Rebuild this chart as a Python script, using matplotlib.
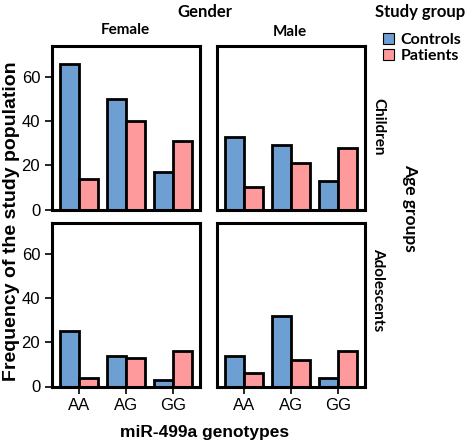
import numpy as np
import matplotlib
matplotlib.use("Agg")
import matplotlib.pyplot as plt
from matplotlib.patches import Patch

genotypes = ["AA", "AG", "GG"]
genders = ["Female", "Male"]
age_groups = ["Children", "Adolescents"]

# frequencies
controls = {
    ("Children", "Female"): [66, 50, 17],
    ("Children", "Male"): [33, 29, 13],
    ("Adolescents", "Female"): [25, 14, 3],
    ("Adolescents", "Male"): [14, 32, 4],
}
patients = {
    ("Children", "Female"): [14, 40, 31],
    ("Children", "Male"): [10, 21, 28],
    ("Adolescents", "Female"): [4, 13, 16],
    ("Adolescents", "Male"): [6, 12, 16],
}

C_BLUE = "#6e9fd2"
C_PINK = "#ff9a9c"
TICK_FONT = "Liberation Sans"
HEAD_FONT = "Lato"

W, H = 472, 446
fig = plt.figure(figsize=(W / 100, H / 100), dpi=100)

def px_axes(x0, y0, x1, y1):
    return fig.add_axes([x0 / W, 1 - y1 / H, (x1 - x0) / W, (y1 - y0) / H])

lefts = [52, 217]
widths = 147.5
tops = [46, 223]
height = 163.5

x = np.arange(len(genotypes))
bw = 0.40

for r, age in enumerate(age_groups):
    for c, g in enumerate(genders):
        ax = px_axes(lefts[c], tops[r], lefts[c] + widths, tops[r] + height)
        ax.bar(x - bw / 2, controls[(age, g)], bw, color=C_BLUE,
               edgecolor="black", linewidth=2)
        ax.bar(x + bw / 2, patients[(age, g)], bw, color=C_PINK,
               edgecolor="black", linewidth=2)
        ax.set_xlim(-0.57, 2.56)
        ax.set_ylim(0, 74)
        for s in ax.spines.values():
            s.set_linewidth(2.2)
        ax.set_yticks([0, 20, 40, 60])
        ax.set_xticks(x)
        ax.tick_params(width=1.2, length=5, labelsize=12)
        if c == 0:
            ax.set_yticklabels(["0", "20", "40", "60"], family=TICK_FONT)
        else:
            ax.tick_params(axis="y", left=False, labelleft=False)
        if r == 1:
            ax.set_xticklabels(genotypes, family=TICK_FONT)
        else:
            ax.tick_params(axis="x", bottom=False, labelbottom=False)

# headings
fig.text(205 / W, 1 - 12 / H, "Gender", ha="center", va="center",
         family=HEAD_FONT, weight="bold", fontsize=12)
fig.text(125 / W, 1 - 30 / H, "Female", ha="center", va="center",
         family=HEAD_FONT, weight="bold", fontsize=11)
fig.text(290 / W, 1 - 32 / H, "Male", ha="center", va="center",
         family=HEAD_FONT, weight="bold", fontsize=11)
fig.text(420 / W, 1 - 12 / H, "Study group", ha="center", va="center",
         family=HEAD_FONT, weight="bold", fontsize=12)
fig.text(378 / W, 1 - 127 / H, "Children", ha="center", va="center",
         rotation=-90, family=HEAD_FONT, weight="bold", fontsize=11)
fig.text(378 / W, 1 - 290 / H, "Adolescents", ha="center", va="center",
         rotation=-90, family=HEAD_FONT, weight="bold", fontsize=11)
fig.text(410 / W, 1 - 208 / H, "Age groups", ha="center", va="center",
         rotation=-90, family=HEAD_FONT, weight="bold", fontsize=12.5)

fig.text(12 / W, 1 - 221 / H, "Frequency of the study population",
         ha="center", va="center", rotation=90, family=TICK_FONT,
         weight="bold", fontsize=14)
fig.text(205 / W, 1 - 432 / H, "miR-499a genotypes", ha="center",
         va="center", family=TICK_FONT, weight="bold", fontsize=12.5)

handles = [Patch(facecolor=C_BLUE, edgecolor="black", linewidth=0.8),
           Patch(facecolor=C_PINK, edgecolor="black", linewidth=0.8)]
fig.legend(handles, ["Controls", "Patients"], loc="upper left",
           bbox_to_anchor=(375 / W, 1 - 25 / H), frameon=False,
           handlelength=0.7, handleheight=0.7, handletextpad=0.4,
           labelspacing=0.1, borderpad=0,
           prop={"family": HEAD_FONT, "weight": "bold", "size": 11.5})

fig.savefig("out.png", dpi=100)
